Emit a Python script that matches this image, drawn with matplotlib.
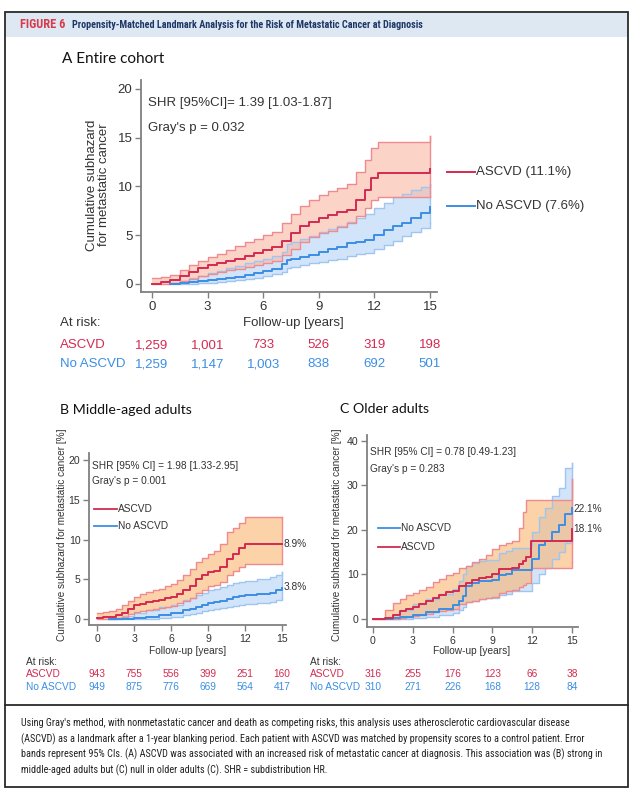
import matplotlib
matplotlib.use('Agg')
import matplotlib.pyplot as plt
from matplotlib.lines import Line2D
from matplotlib.patches import Rectangle
from matplotlib.transforms import blended_transform_factory as btf
from matplotlib import font_manager as fm

# ---------------- data ----------------
years_ticks = [0, 3, 6, 9, 12, 15]

# Panel A: entire cohort
a_asc_t  = [0, 0.5, 1, 1.5, 2, 2.5, 3, 3.5, 4, 4.5, 5, 5.5, 6, 6.5, 7, 7.5, 8, 8.5, 9, 9.5, 10, 10.5, 11, 11.5, 11.8, 12.2, 15]
a_asc_v  = [0, 0.2, 0.4, 0.8, 1.2, 1.6, 1.9, 2.1, 2.4, 2.6, 2.9, 3.2, 3.5, 3.8, 4.4, 5.2, 5.9, 6.4, 6.8, 7.1, 7.4, 7.6, 8.6, 9.6, 10.9, 11.4, 11.8]
a_asc_hi = [0.6, 0.7, 0.9, 1.4, 1.9, 2.4, 2.8, 3.1, 3.5, 3.9, 4.3, 4.6, 5.0, 5.3, 6.2, 7.2, 8.0, 8.6, 9.1, 9.5, 9.8, 10.2, 11.5, 12.7, 13.9, 14.5, 15.2]
a_asc_lo = [0, 0, 0.1, 0.3, 0.5, 0.8, 1.0, 1.2, 1.4, 1.5, 1.7, 1.9, 2.1, 2.4, 3.0, 3.6, 4.3, 4.8, 5.2, 5.4, 5.8, 6.2, 7.0, 7.8, 8.6, 8.9, 8.9]
a_no_t  = [1, 1.5, 2, 2.5, 3, 3.5, 4, 4.5, 5, 5.5, 6, 6.5, 7, 7.3, 7.5, 8, 8.5, 9, 9.5, 10, 10.5, 11, 11.5, 12, 12.5, 13, 13.5, 14, 14.5, 15]
a_no_v  = [0, 0.1, 0.2, 0.3, 0.4, 0.5, 0.6, 0.75, 0.9, 1.1, 1.3, 1.5, 2.0, 2.5, 2.6, 2.8, 3.0, 3.3, 3.6, 3.8, 4.2, 4.3, 4.5, 5.0, 5.5, 5.9, 6.3, 6.8, 7.3, 7.9]
a_no_hi = [0.1, 0.35, 0.6, 0.85, 1.1, 1.35, 1.6, 1.85, 2.1, 2.35, 2.6, 2.9, 3.3, 4.1, 4.3, 4.6, 4.9, 5.3, 5.6, 5.9, 6.4, 6.8, 7.2, 7.8, 8.3, 8.9, 9.2, 9.6, 9.9, 10.2]
a_no_lo = [0, 0, 0.05, 0.1, 0.15, 0.2, 0.3, 0.4, 0.5, 0.65, 0.8, 1.0, 1.2, 1.6, 1.7, 1.9, 2.1, 2.3, 2.45, 2.6, 2.9, 3.1, 3.2, 3.6, 4.0, 4.4, 4.9, 5.3, 5.7, 6.2]
a_risk_asc = ["1,259", "1,001", "733", "526", "319", "198"]
a_risk_no  = ["1,259", "1,147", "1,003", "838", "692", "501"]

# Panel B: middle-aged adults
b_asc_t  = [0, 0.5, 1, 1.5, 2, 2.5, 3, 3.5, 4, 4.5, 5, 5.5, 6, 6.5, 7, 7.5, 8, 8.5, 9, 9.5, 10, 10.5, 11, 11.5, 12, 15]
b_asc_v  = [0.1, 0.2, 0.3, 0.5, 0.8, 1.3, 1.8, 1.9, 2.1, 2.3, 2.4, 2.6, 2.8, 3.2, 3.7, 4.2, 5.1, 5.5, 5.9, 6.0, 6.5, 7.6, 8.2, 9.0, 9.4, 9.4]
b_asc_hi = [0.8, 0.9, 1.0, 1.3, 1.8, 2.3, 2.8, 3.1, 3.4, 3.6, 3.8, 4.1, 4.4, 4.9, 5.5, 6.3, 7.2, 7.7, 8.2, 8.6, 9.5, 10.9, 11.5, 12.1, 12.8, 12.8]
b_asc_lo = [0, 0, 0.05, 0.15, 0.3, 0.6, 0.9, 1.0, 1.1, 1.25, 1.4, 1.55, 1.7, 2.0, 2.3, 2.7, 3.3, 3.7, 4.1, 4.3, 4.6, 5.5, 6.0, 6.6, 6.9, 6.9]
b_no_t  = [1, 2, 3, 4, 5, 6, 7, 7.5, 8, 8.5, 9, 9.5, 10, 10.5, 11, 11.5, 12, 13, 14, 14.5, 15]
b_no_v  = [0, 0.05, 0.15, 0.25, 0.5, 0.7, 1.1, 1.3, 1.5, 1.8, 2.0, 2.1, 2.3, 2.5, 2.8, 2.9, 3.0, 3.1, 3.3, 3.6, 3.9]
b_no_hi = [0.05, 0.4, 0.8, 1.1, 1.5, 1.8, 2.4, 2.7, 3.0, 3.3, 3.6, 3.8, 4.0, 4.3, 4.5, 4.6, 4.8, 5.0, 5.3, 5.6, 5.9]
b_no_lo = [0, 0, 0.02, 0.05, 0.15, 0.3, 0.5, 0.65, 0.8, 0.95, 1.1, 1.25, 1.4, 1.55, 1.7, 1.8, 1.9, 2.0, 2.2, 2.4, 2.6]
b_risk_asc = ["943", "755", "556", "399", "251", "160"]
b_risk_no  = ["949", "875", "776", "669", "564", "417"]

# Panel C: older adults
c_asc_t  = [0, 0.9, 1.5, 2, 2.5, 3, 3.5, 4, 4.5, 5, 5.5, 6, 6.5, 7, 7.5, 8, 8.5, 9, 9.5, 10, 10.5, 11, 11.3, 11.5, 11.9, 15]
c_asc_v  = [0, 0.3, 1.0, 1.7, 2.2, 2.7, 3.3, 4.0, 4.8, 5.4, 6.0, 6.3, 7.5, 8.0, 8.8, 9.2, 9.5, 10.1, 11.2, 11.3, 11.5, 12.3, 13.0, 14.0, 17.5, 20.2]
c_asc_hi = [0, 2.0, 3.5, 4.5, 5.3, 5.8, 6.4, 7.2, 8.2, 9.0, 9.8, 10.3, 11.4, 12.0, 12.8, 13.5, 14.3, 15.8, 16.5, 17.0, 17.5, 20.5, 24.0, 26.8, 26.8, 31.5]
c_asc_lo = [0, 0, 0.1, 0.3, 0.5, 0.7, 0.95, 1.2, 1.5, 1.8, 2.0, 2.3, 3.4, 3.7, 4.1, 4.5, 4.7, 5.0, 5.9, 6.2, 6.6, 7.2, 7.6, 8.0, 11.5, 12.8]
c_no_t  = [1, 1.5, 2, 3, 4, 5, 6, 6.5, 6.8, 7, 7.5, 8, 8.5, 9, 9.5, 10, 10.5, 11.9, 12, 12.5, 13, 13.5, 14, 14.5, 15]
c_no_v  = [0, 0.2, 0.5, 0.9, 1.5, 2.2, 3.2, 4.0, 5.2, 7.5, 8.0, 8.5, 8.6, 8.8, 9.9, 10.2, 11.0, 11.0, 13.5, 16.5, 17.5, 19.5, 21.0, 23.5, 25.0]
c_no_hi = [0.3, 1.2, 2.0, 3.3, 4.5, 5.5, 6.8, 8.5, 10.0, 12.0, 12.6, 13.1, 13.2, 13.3, 14.8, 15.2, 16.0, 16.5, 19.5, 23.0, 25.0, 27.5, 29.5, 34.0, 35.0]
c_no_lo = [0, 0, 0.05, 0.2, 0.5, 0.8, 1.4, 2.0, 2.8, 3.7, 4.1, 4.5, 4.6, 4.7, 5.4, 5.6, 6.3, 6.3, 8.1, 10.0, 11.5, 13.5, 15.0, 17.0, 18.0]
c_risk_asc = ["316", "255", "176", "123", "66", "38"]
c_risk_no  = ["310", "271", "226", "168", "128", "84"]

caption_lines = [
    "Using Gray's method, with nonmetastatic cancer and death as competing risks, this analysis uses atherosclerotic cardiovascular disease",
    "(ASCVD) as a landmark after a 1-year blanking period. Each patient with ASCVD was matched by propensity scores to a control patient. Error",
    "bands represent 95% CIs. (A) ASCVD was associated with an increased risk of metastatic cancer at diagnosis. This association was (B) strong in",
    "middle-aged adults but (C) null in older adults (C). SHR = subdistribution HR.",
]

# ---------------- style ----------------
RED = '#d42a50'
BLUE = '#3b8ee4'
RED_EDGE = '#ef8a8f'
BLUE_EDGE = '#9fc6f0'
BLUE_FILL = '#d2e4f9'
SALMON = '#fab7a3'
ORANGE = '#faB571'
SPINE = '#808080'
TXT = '#333333'

W, H = 634, 793
plt.rcParams['font.family'] = ['Liberation Sans', 'DejaVu Sans']
fig = plt.figure(figsize=(W / 100, H / 100), dpi=100)
renderer = fig.canvas.get_renderer()

# choose a narrow font if one is installed
_entries = fm.fontManager.ttflist
_names = {f.name for f in _entries}
NARROW_KW = None
for cand in ['Roboto Condensed', 'Liberation Sans Narrow', 'DejaVu Sans Condensed',
             'Open Sans Condensed', 'Noto Sans Condensed']:
    if cand in _names:
        NARROW_KW = {'family': [cand, 'DejaVu Sans']}
        break
if NARROW_KW is None:
    if any(f.name == 'DejaVu Sans' and 'condensed' in str(f.stretch) for f in _entries):
        NARROW_KW = {'family': ['DejaVu Sans'], 'fontstretch': 'condensed'}
    else:
        NARROW_KW = {'family': ['Liberation Sans', 'DejaVu Sans']}


def fx(x):
    return x / W


def fy(y):
    return 1 - y / H


def T(x, y, s, **kw):
    kw.setdefault('va', 'center')
    return fig.text(fx(x), fy(y), s, **kw)


def width_px(t):
    return t.get_window_extent(renderer).width


def hline(x0, x1, y, **kw):
    fig.add_artist(Line2D([fx(x0), fx(x1)], [fy(y), fy(y)], transform=fig.transFigure, **kw))


# ---------- frame ----------
fig.add_artist(Rectangle((fx(5), fy(37)), fx(628) - fx(5), fy(12) - fy(37), transform=fig.transFigure,
                         facecolor='#dde8f3', edgecolor='none', zorder=0))
fig.add_artist(Rectangle((fx(5), fy(787)), fx(628) - fx(5), fy(12) - fy(787), transform=fig.transFigure,
                         facecolor='none', edgecolor='#2a2a2a', lw=1.3, zorder=5))
hline(5, 628, 705, color='#2a2a2a', lw=1.3)

# header, fitted to the reference widths
t_fig = T(20, 24.5, 'FIGURE 6', color='#d93a4a', fontsize=7.5, fontweight='bold', **NARROW_KW)
t_fig.set_fontsize(min(9, 7.5 * 45 / width_px(t_fig)))
t_head = T(72, 24.5, 'Propensity-Matched Landmark Analysis for the Risk of Metastatic Cancer at Diagnosis',
           color='#1f3766', fontsize=7.5, fontweight='bold', **NARROW_KW)
t_head.set_fontsize(min(9, 7.5 * 346 / width_px(t_head)))

# caption, fitted so its longest line spans the reference width
cap_texts = [T(21, 723.5 + i * 15.6, line, color='#222222', fontsize=8.2, **NARROW_KW)
             for i, line in enumerate(caption_lines)]
wmax = max(width_px(t) for t in cap_texts)
cap_size = min(9, 8.2 * 578 / wmax)
for t in cap_texts:
    t.set_fontsize(cap_size)


# ---------- panels ----------
def make_axes(left, right, bottom, top, xlim, ylim, yticks, fs):
    ax = fig.add_axes([fx(left), fy(bottom), fx(right) - fx(left), fy(top) - fy(bottom)])
    ax.set_xlim(*xlim)
    ax.set_ylim(*ylim)
    ax.set_xticks(years_ticks)
    ax.set_yticks(yticks)
    for s in ['top', 'right']:
        ax.spines[s].set_visible(False)
    for s in ['left', 'bottom']:
        ax.spines[s].set_color(SPINE)
        ax.spines[s].set_linewidth(1.3)
    ax.tick_params(colors=SPINE, labelcolor=TXT, labelsize=fs, length=4, width=1, pad=2.2)
    ax.patch.set_alpha(0)
    return ax


def draw_band(ax, t, lo, hi, fill, edge, alpha):
    ax.fill_between(t, lo, hi, step='post', facecolor=fill, edgecolor='none', alpha=alpha, zorder=1)
    ax.plot(t, lo, drawstyle='steps-post', color=edge, lw=1.0, zorder=2)
    ax.plot(t, hi, drawstyle='steps-post', color=edge, lw=1.0, zorder=2)
    ax.plot([t[-1], t[-1]], [lo[-1], hi[-1]], color=edge, lw=1.0, zorder=2)


def draw_line(ax, t, v, color):
    ax.plot(t, v, drawstyle='steps-post', color=color, lw=1.4, zorder=4)


def risk_table(ax, ys, labels_x, asc, no, fs):
    tr = btf(ax.transData, fig.transFigure)
    T(labels_x, ys[0], 'At risk:', color=TXT, fontsize=fs)
    T(labels_x, ys[1], 'ASCVD', color=RED, fontsize=fs)
    T(labels_x, ys[2], 'No ASCVD', color=BLUE, fontsize=fs)
    for xv, a, n in zip(years_ticks, asc, no):
        fig.text(xv, fy(ys[1]), a, color=RED, fontsize=fs, ha='center', va='center', transform=tr)
        fig.text(xv, fy(ys[2]), n, color=BLUE, fontsize=fs, ha='center', va='center', transform=tr)


TITLE = ['Lato', 'DejaVu Sans']

# Panel A
T(62, 59, 'A Entire cohort', fontsize=11, family=TITLE, color='#111111')
axA = make_axes(141, 437, 292, 80, (-0.59, 15.38), (-0.82, 20.9), [0, 5, 10, 15, 20], 9.5)
draw_band(axA, a_no_t, a_no_lo, a_no_hi, BLUE_FILL, BLUE_EDGE, 1.0)
draw_band(axA, a_asc_t, a_asc_lo, a_asc_hi, SALMON, RED_EDGE, 0.6)
draw_line(axA, a_no_t, a_no_v, BLUE)
draw_line(axA, a_asc_t, a_asc_v, RED)
T(148, 103, 'SHR [95%CI]= 1.39 [1.03-1.87]', fontsize=9.5, color=TXT)
T(148, 128, "Gray's p = 0.032", fontsize=9.5, color=TXT)
T(98, 185, 'Cumulative subhazard\nfor metastatic cancer', fontsize=9.5, color=TXT, rotation=90,
  ha='center', linespacing=1.0)
hline(447, 475, 172, color=RED, lw=1.4)
T(476, 172, 'ASCVD (11.1%)', fontsize=9.5, color=TXT)
hline(447, 475, 206, color=BLUE, lw=1.4)
T(476, 206, 'No ASCVD (7.6%)', fontsize=9.5, color=TXT)
T(293, 323, 'Follow-up [years]', fontsize=9.5, color=TXT, ha='center')
risk_table(axA, [323, 345, 364], 60, a_risk_asc, a_risk_no, 9.5)

# Panel B
T(60, 410, 'B Middle-aged adults', fontsize=10.2, family=TITLE, color='#111111')
axB = make_axes(89, 286, 625, 453, (-0.65, 15.32), (-0.75, 20.9), [0, 5, 10, 15, 20], 7.6)
draw_band(axB, b_no_t, b_no_lo, b_no_hi, BLUE_FILL, BLUE_EDGE, 1.0)
draw_band(axB, b_asc_t, b_asc_lo, b_asc_hi, ORANGE, RED_EDGE, 0.6)
draw_line(axB, b_no_t, b_no_v, BLUE)
draw_line(axB, b_asc_t, b_asc_v, RED)
T(92, 466, 'SHR [95% CI] = 1.98 [1.33-2.95]', fontsize=7.3, color=TXT)
T(92, 481, "Gray's p = 0.001", fontsize=7.3, color=TXT)
T(62, 535, 'Cumulative subhazard for metastatic cancer [%]', fontsize=7.2, color=TXT, rotation=90, ha='center')
hline(94, 117, 509, color=RED, lw=1.3)
T(118, 509, 'ASCVD', fontsize=7.3, color=TXT)
hline(94, 117, 526, color=BLUE, lw=1.3)
T(118, 526, 'No ASCVD', fontsize=7.3, color=TXT)
axB.text(15.1, 9.4, '8.9%', fontsize=7.3, color=TXT, va='center', ha='left', clip_on=False)
axB.text(15.1, 4.0, '3.8%', fontsize=7.3, color=TXT, va='center', ha='left', clip_on=False)
T(188, 650.5, 'Follow-up [years]', fontsize=7.3, color=TXT, ha='center')
risk_table(axB, [662, 674, 687], 26, b_risk_asc, b_risk_no, 7.3)

# Panel C
T(340, 409, 'C Older adults', fontsize=10.2, family=TITLE, color='#111111')
axC = make_axes(367, 578, 627, 435, (-0.45, 15.45), (-1.8, 41.3), [0, 10, 20, 30, 40], 7.6)
draw_band(axC, c_no_t, c_no_lo, c_no_hi, BLUE_FILL, BLUE_EDGE, 1.0)
draw_band(axC, c_asc_t, c_asc_lo, c_asc_hi, ORANGE, RED_EDGE, 0.6)
draw_line(axC, c_no_t, c_no_v, BLUE)
draw_line(axC, c_asc_t, c_asc_v, RED)
T(370, 452, 'SHR [95% CI] = 0.78 [0.49-1.23]', fontsize=7.3, color=TXT)
T(370, 469, "Gray's p = 0.283", fontsize=7.3, color=TXT)
T(337, 535, 'Cumulative subhazard for metastatic cancer [%]', fontsize=7.2, color=TXT, rotation=90, ha='center')
hline(378, 400, 528, color=BLUE, lw=1.3)
T(401, 528, 'No ASCVD', fontsize=7.3, color=TXT)
hline(378, 400, 547, color=RED, lw=1.3)
T(401, 547, 'ASCVD', fontsize=7.3, color=TXT)
axC.text(15.1, 24.7, '22.1%', fontsize=7.3, color=TXT, va='center', ha='left', clip_on=False)
axC.text(15.1, 20.2, '18.1%', fontsize=7.3, color=TXT, va='center', ha='left', clip_on=False)
T(472, 651, 'Follow-up [years]', fontsize=7.3, color=TXT, ha='center')
risk_table(axC, [662, 674, 687], 310, c_risk_asc, c_risk_no, 7.3)

fig.savefig('out.png', dpi=100)
